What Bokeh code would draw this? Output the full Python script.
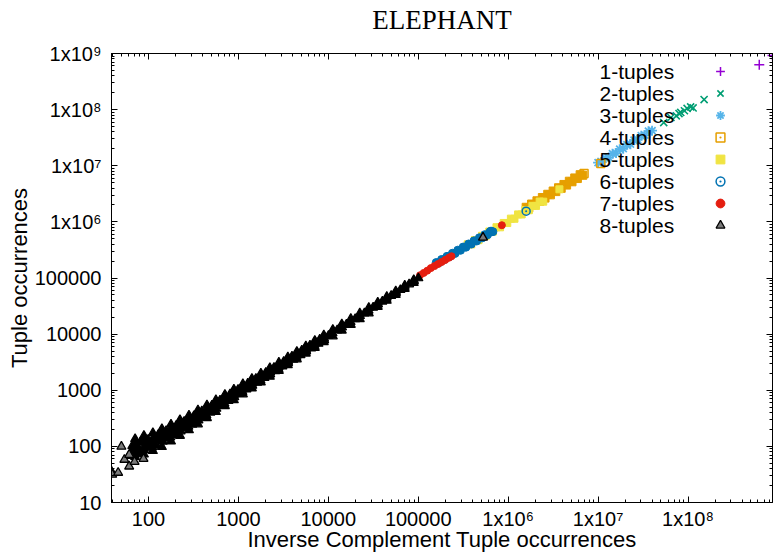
from bokeh.plotting import figure
from bokeh.models import Range1d, LogAxis, FixedTicker, Legend, LegendItem, Label
from bokeh.embed import file_html
from bokeh.resources import INLINE

# ---------------- data ----------------
title_text = "ELEPHANT"
x_label_text = "Inverse Complement Tuple occurrences"
y_label_text = "Tuple occurrences"
series_names = ["1-tuples", "2-tuples", "3-tuples", "4-tuples",
                "5-tuples", "6-tuples", "7-tuples", "8-tuples"]

x_tick_values = [1e2, 1e3, 1e4, 1e5, 1e6, 1e7, 1e8]
x_tick_labels = ["100", "1000", "10000", "100000", "1x10\u2076", "1x10\u2077", "1x10\u2078"]
y_tick_values = [1e1, 1e2, 1e3, 1e4, 1e5, 1e6, 1e7, 1e8, 1e9]
y_tick_labels = ["10", "100", "1000", "10000", "100000",
                 "1x10\u2076", "1x10\u2077", "1x10\u2078", "1x10\u2079"]

# 1-tuples
x1 = [6.2e8, 8.7e8]
y1 = [6.3e8, 9.2e8]

# 2-tuples
x2 = [5.37e7, 6.46e7, 7.41e7, 7.94e7, 8.3e7, 9.12e7, 9.77e7, 1.07e8, 1.14e8, 1.51e8]
y2 = [5.89e7, 7.24e7, 7.76e7, 8.51e7, 8.9e7, 9.55e7, 1.05e8, 1.12e8, 1.07e8, 1.51e8]

# 3-tuples
x3 = [1.000e7, 1.096e7, 1.202e7, 1.318e7, 1.445e7, 1.585e7, 1.738e7, 1.905e7,
      2.089e7, 2.291e7, 2.512e7, 2.754e7, 3.020e7, 3.311e7, 3.631e7, 3.981e7]
y3 = [1.135e7, 1.161e7, 1.364e7, 1.396e7, 1.640e7, 1.679e7, 1.973e7, 2.017e7,
      2.371e7, 2.426e7, 2.851e7, 2.916e7, 3.428e7, 3.506e7, 4.121e7, 4.216e7]

# 4-tuples (dense run + isolated points)
x4_band = [1585000, 1698000, 1820000, 1950000, 2089000, 2239000, 2399000, 2570000,
           2754000, 2951000, 3162000, 3388000, 3631000, 3890000, 4169000, 4467000,
           4786000, 5129000, 5495000, 5888000, 6310000, 6761000]
y4_band = [1820000, 1775000, 2080000, 2028000, 2377000, 2320000, 2718000, 2650000,
           3106000, 3031000, 3551000, 3463000, 4059000, 3960000, 4644000, 4525000,
           5308000, 5175000, 6066000, 5912000, 6935000, 6761000]
x4_extra = [6982000, 10720000]
y4_extra = [7244000, 10960000]

# 5-tuples
x5 = [354800, 389000, 426600, 467700, 512900, 562300, 616600, 676100, 741300, 812800,
      891300, 977200, 1072000, 1175000, 1288000, 1413000, 1549000, 1698000, 1862000,
      2042000, 2239000, 2455000, 3715000]
y5 = [398100, 396400, 474400, 472400, 565200, 562900, 673900, 670700, 802800, 799800,
      957300, 952800, 1142000, 1136000, 1359000, 1354000, 1620000, 1613000, 1931000,
      1924000, 2302000, 2291000, 3802000]

# 6-tuples
x6_band = [158500, 169800, 182000, 195000, 208900, 223900, 239900, 257000, 275400,
           295100, 316200, 338800, 363100, 389000, 416900, 446700, 478600, 512900,
           549500, 588800, 631000, 676100]
y6_band = [188400, 187300, 213900, 212800, 242900, 241600, 275900, 274200, 313400,
           311600, 355700, 353700, 404100, 401800, 459000, 456500, 521200, 518000,
           591800, 588700, 672000, 668700]
x6_extra = [1585000, 646000]
y6_extra = [1549000, 676000]

# 7-tuples
x7 = [104700, 114800, 125900, 138000, 151400, 166000, 182000, 199500, 218800, 234400, 851000]
y7 = [112000, 123000, 135000, 150000, 163000, 177000, 193000, 210000, 229000, 244000, 871000]

# 8-tuples (dense diagonal band, several rows, plus isolated points)
x8_mid = [64, 78, 102, 125, 160, 198, 254, 313, 401, 498, 635, 790, 1006, 1252, 1590,
          1988, 2520, 3150, 3995, 5000, 6330, 7920, 10040, 12560, 15900, 19900, 25200,
          31500, 39900, 50000, 63300, 79200, 100400]
y8_mid = [79, 90, 110, 128, 160, 191, 240, 292, 374, 465, 593, 738, 940, 1170, 1483,
          1855, 2352, 2940, 3730, 4667, 5907, 7390, 9370, 11720, 14830, 18570, 23610,
          29720, 38100, 48100, 61370, 77450, 99400]
x8_mid2 = [70, 90, 111, 143, 176, 226, 280, 358, 443, 567, 702, 898, 1113, 1425, 1765,
           2255, 2800, 3570, 4440, 5660, 7040, 8960, 11150, 14200, 17700, 22500, 28000,
           35700, 44400, 56600, 70400, 89600]
y8_mid2 = [83, 100, 116, 145, 173, 216, 263, 334, 413, 529, 655, 837, 1039, 1330, 1647,
           2104, 2612, 3331, 4142, 5281, 6568, 8360, 10400, 13250, 16510, 21110, 26310,
           33950, 42580, 54680, 68500, 87990]
x8_top = [71, 89, 112, 141, 178, 224, 282, 355, 447, 562, 708, 891, 1122, 1413, 1778,
          2239, 2818, 3548, 4467, 5623, 7079, 8913, 11220, 14125, 17783, 22387, 28184,
          35481, 44668, 56234, 70795, 89125]
y8_top = [135, 155, 174, 204, 245, 295, 355, 442, 543, 668, 832, 1035, 1288, 1603, 1995,
          2495, 3112, 3890, 4864, 6095, 7621, 9550, 11970, 14960, 18710, 23440, 29380,
          36560, 46130, 58080, 73280, 92470]
x8_bottom = [71, 89, 112, 141, 178, 224, 282, 355, 447, 562, 708, 891, 1122, 1413, 1778,
             2239, 2818, 3548, 4467, 5623, 7079, 8913, 11220, 14125, 17783, 22387, 28184,
             35481, 44668, 56234, 70795, 89125]
y8_bottom = [65, 72, 83, 98, 123, 155, 195, 248, 320, 412, 525, 668, 851, 1084, 1380,
             1750, 2223, 2818, 3573, 4519, 5728, 7244, 9162, 11610, 14720, 18620, 23550,
             30690, 39450, 50350, 64420, 82030]
x8_upper = [66, 81, 99, 128, 157, 203, 249, 320, 392, 507, 624, 806, 991, 1271, 1566,
            2015, 2487, 3190, 3940, 5070, 6250, 8030]
y8_upper = [102, 117, 131, 159, 187, 232, 274, 347, 421, 537, 657, 845, 1026, 1314, 1607,
            2060, 2530, 3225, 3980, 5105, 6273, 8036]
x8_upper2 = [72, 88, 114, 139, 180, 221, 285, 351, 452, 556, 715, 882, 1134, 1400, 1795,
             2220, 2845, 3515, 4510, 5570, 7150, 8830]
y8_upper2 = [108, 122, 146, 169, 210, 248, 312, 378, 482, 587, 748, 918, 1172, 1441, 1839,
             2264, 2888, 3552, 4545, 5592, 7165, 8831]
x8_lower = [62, 76, 105, 122, 164, 194, 259, 307, 410, 488, 648, 775, 1025, 1230, 1620,
            1950, 2570, 3090, 4070, 4910, 6450, 7780]
y8_lower = [68, 76, 95, 103, 138, 160, 211, 246, 333, 401, 539, 646, 863, 1039, 1372,
            1658, 2199, 2658, 3516, 4247, 5594, 6778]
x8_lower2 = [70, 90, 110, 144, 175, 228, 278, 360, 441, 570, 700, 902, 1110, 1430, 1760,
             2260, 2790, 3580, 4420, 5680, 7010, 9000]
y8_lower2 = [73, 85, 96, 122, 145, 186, 225, 291, 360, 471, 582, 754, 935, 1210, 1496,
             1929, 2392, 3084, 3818, 4925, 6090, 7833]
x8_extra = [38.8, 39.5, 46, 50, 54, 61, 61, 70, 88, 525000]
y8_extra = [35.5, 31.4, 34, 99, 58, 44, 71, 53, 60, 525000]

# ---------------- figure ----------------
all_x = (x1 + x2 + x3 + x4_band + x4_extra + x5 + x6_band + x6_extra + x7 +
         x8_mid + x8_top + x8_bottom + x8_upper + x8_lower + x8_extra)

p = figure(width=775, height=554, x_axis_type="log", y_axis_type="log",
           x_range=Range1d(min(all_x), max(all_x)), y_range=Range1d(10, 1e9),
           output_backend="svg", toolbar_location=None,
           min_border_left=111, min_border_right=3, min_border_top=53,
           min_border_bottom=51)

p.background_fill_color = "white"
p.border_fill_color = "white"
p.outline_line_color = "black"
p.outline_line_width = 1
p.grid.visible = False

minor = [k * 10.0 ** n for n in range(0, 9) for k in range(2, 10)]


def style_axis(ax):
    ax.axis_line_color = "black"
    ax.axis_line_width = 1
    ax.major_tick_in = 6
    ax.major_tick_out = 0
    ax.minor_tick_in = 3
    ax.minor_tick_out = 0
    ax.major_tick_line_color = "black"
    ax.minor_tick_line_color = "black"
    ax.major_label_text_font = "Liberation Sans"
    ax.major_label_text_font_size = "20px"
    ax.major_label_text_color = "black"
    ax.axis_label_text_font = "Liberation Sans"
    ax.axis_label_text_font_size = "22px"
    ax.axis_label_text_font_style = "normal"
    ax.axis_label_text_color = "black"


xa = p.xaxis[0]
xa.ticker = FixedTicker(ticks=x_tick_values, minor_ticks=minor)
xa.major_label_overrides = dict(zip(x_tick_values, x_tick_labels))
xa.axis_label = x_label_text
style_axis(xa)
xa.major_label_standoff = 5
xa.axis_label_standoff = -6

ya = p.yaxis[0]
ya.ticker = FixedTicker(ticks=y_tick_values, minor_ticks=minor)
ya.major_label_overrides = dict(zip(y_tick_values, y_tick_labels))
ya.axis_label = y_label_text
style_axis(ya)
ya.major_label_standoff = 10
ya.axis_label_standoff = 0

# mirrored tick marks on the top and right borders; the top one carries the title
top_ax = LogAxis(ticker=FixedTicker(ticks=x_tick_values, minor_ticks=minor))
style_axis(top_ax)
top_ax.major_label_text_font_size = "1px"
top_ax.major_label_standoff = 0
top_ax.major_label_overrides = {v: "" for v in x_tick_values}
top_ax.axis_label = title_text
top_ax.axis_label_text_font = "Liberation Serif"
top_ax.axis_label_text_font_size = "27px"
top_ax.axis_label_standoff = 19
p.add_layout(top_ax, "above")

right_ax = LogAxis(ticker=FixedTicker(ticks=y_tick_values, minor_ticks=minor))
style_axis(right_ax)
right_ax.major_label_text_font_size = "1px"
right_ax.major_label_standoff = 0
right_ax.major_label_overrides = {v: "" for v in y_tick_values}
p.add_layout(right_ax, "right")

# ---------------- series ----------------
PURPLE, GREEN, LBLUE, ORANGE = "#9400d3", "#009e73", "#56b4e9", "#e69f00"
YELLOW, BLUE, RED = "#f0e442", "#0072b2", "#e51e10"

r1 = p.scatter(x1, y1, marker="cross", size=10, line_color=PURPLE, line_width=1.5)
r2 = p.scatter(x2, y2, marker="x", size=10, line_color=GREEN, line_width=1.6)
r3 = p.scatter(x3, y3, marker="asterisk", size=10, line_color=LBLUE, line_width=1.8)
p.scatter(x4_band, y4_band, marker="square", size=8, fill_color=ORANGE, line_color=ORANGE)
r4 = p.scatter(x4_extra, y4_extra, marker="square_dot", size=8, fill_color=None,
               line_color=ORANGE, line_width=1.5)
r5 = p.scatter(x5, y5, marker="square", size=7, fill_color=YELLOW, line_color=YELLOW)
p.scatter(x6_band, y6_band, marker="circle", size=8, fill_color=BLUE, line_color=BLUE)
r6 = p.scatter(x6_extra, y6_extra, marker="circle_dot", size=8, fill_color=None,
               line_color=BLUE, line_width=1.5)
r7 = p.scatter(x7, y7, marker="circle", size=7, fill_color=RED, line_color=RED)
for bx, by in [(x8_mid, y8_mid), (x8_mid2, y8_mid2), (x8_top, y8_top),
               (x8_bottom, y8_bottom), (x8_upper, y8_upper), (x8_upper2, y8_upper2),
               (x8_lower, y8_lower), (x8_lower2, y8_lower2)]:
    p.scatter(bx, by, marker="triangle", size=9, fill_color="black",
              line_color="black", line_width=1.2)
r8 = p.scatter(x8_extra, y8_extra, marker="triangle", size=9, fill_color="#7a7a7a",
               line_color="black", line_width=1.3)

# ---------------- key ----------------
renderers = [r1, r2, r3, r4, r5, r6, r7, r8]
legend = Legend(items=[LegendItem(label=" ", renderers=[r]) for r in renderers],
                location=(598, 266), glyph_width=22, glyph_height=22, spacing=0,
                padding=0, margin=0, label_standoff=0, label_width=1, label_height=22,
                label_text_font_size="2px", border_line_alpha=0,
                background_fill_alpha=0)
p.add_layout(legend)

for i, name in enumerate(series_names):
    p.add_layout(Label(x=488, y=431 - 22.0 * i, x_units="screen", y_units="screen",
                       text=name, text_font="Liberation Sans", text_font_size="21px",
                       text_baseline="middle", text_align="left", text_color="black"))

open("out.html", "w").write(file_html(p, INLINE))
